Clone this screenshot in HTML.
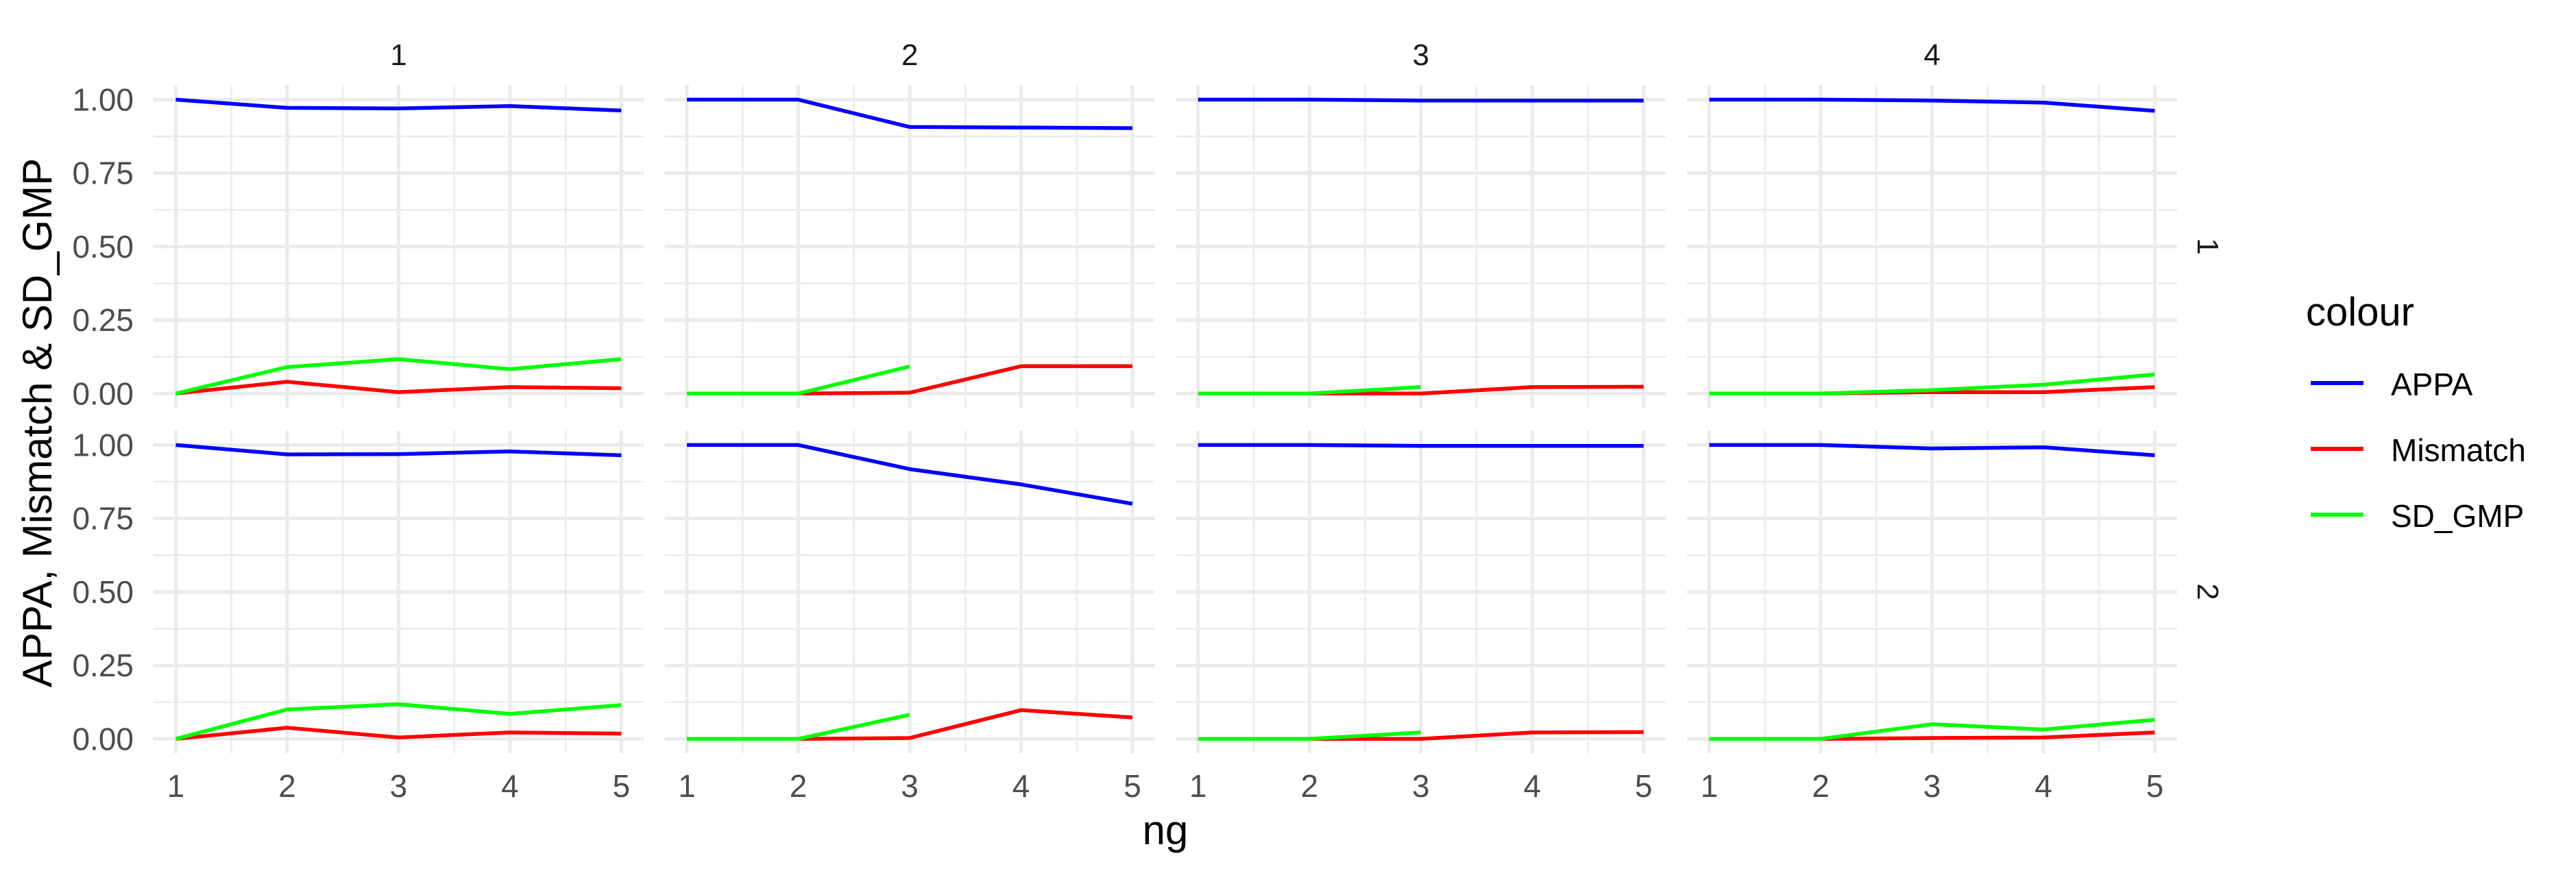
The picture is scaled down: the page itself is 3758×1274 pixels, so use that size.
<!DOCTYPE html>
<html><head><meta charset="utf-8"><style>
html,body{margin:0;padding:0;background:#fff;}
svg{display:block;font-family:"Liberation Sans",Arial,sans-serif;}
</style></head><body>
<svg id="chart" width="3758" height="1274" viewBox="0 0 3758 1274" xmlns="http://www.w3.org/2000/svg">
<text x="0" y="0" transform="translate(75,617) rotate(-90)" text-anchor="middle" font-size="60" fill="#000">APPA, Mismatch &amp; SD_GMP</text>
<text x="1700" y="1232" text-anchor="middle" font-size="60" fill="#000">ng</text>
<g>
<text x="3364" y="475" font-size="58" fill="#000">colour</text>
<line x1="3371" x2="3448" y1="559" y2="559" stroke="#0000ff" stroke-width="6"/>
<text x="3488" y="577" font-size="46" fill="#000">APPA</text>
<line x1="3371" x2="3448" y1="655" y2="655" stroke="#ff0000" stroke-width="6"/>
<text x="3488" y="673" font-size="46" fill="#000">Mismatch</text>
<line x1="3371" x2="3448" y1="751" y2="751" stroke="#00ff00" stroke-width="6"/>
<text x="3488" y="769" font-size="46" fill="#000">SD_GMP</text>
</g>
</svg>
<script>
const xCategories = [1, 2, 3, 4, 5];
const yTicks = [0, 0.25, 0.5, 0.75, 1];
const yTickLabels = ["0.00", "0.25", "0.50", "0.75", "1.00"];
const colFacets = ["1", "2", "3", "4"];
const rowFacets = ["1", "2"];
// values per [row][col]
const appa = [
  [[1, 0.972, 0.970, 0.978, 0.963], [1, 1, 0.907, 0.905, 0.903], [1, 1, 0.997, 0.997, 0.997], [1, 1, 0.997, 0.990, 0.962]],
  [[1, 0.968, 0.969, 0.978, 0.965], [1, 1, 0.918, 0.866, 0.800], [1, 1, 0.997, 0.997, 0.997], [1, 1, 0.988, 0.992, 0.965]]
];
const mismatch = [
  [[0, 0.040, 0.005, 0.022, 0.018], [0, 0, 0.003, 0.093, 0.093], [0, 0, 0, 0.022, 0.023], [0, 0, 0.005, 0.005, 0.022]],
  [[0, 0.038, 0.005, 0.022, 0.018], [0, 0, 0.003, 0.098, 0.073], [0, 0, 0, 0.022, 0.023], [0, 0, 0.003, 0.005, 0.022]]
];
const sdGmp = [
  [[0, 0.090, 0.117, 0.083, 0.117], [0, 0, 0.092], [0, 0, 0.022], [0, 0, 0.012, 0.030, 0.065]],
  [[0, 0.100, 0.118, 0.085, 0.115], [0, 0, 0.082], [0, 0, 0.022], [0, 0, 0.050, 0.032, 0.065]]
];

const NS = "http://www.w3.org/2000/svg";
const svg = document.getElementById("chart");
const PANEL_W = 715, PANEL_STEP = 745.7, PANEL_X0 = 224;
const ROW_TOP = [124, 628], ROW_H = 471;
function xScale(col, v) { return PANEL_X0 + col * PANEL_STEP + 32.4 + (v - 1) * 162.5; }
function yScale(row, v) { const y0 = ROW_TOP[row] + 450.3, y1 = ROW_TOP[row] + 21.4; return y0 + (y1 - y0) * v; }
function mk(tag, attrs, parent) {
  const e = document.createElementNS(NS, tag);
  for (const k in attrs) e.setAttribute(k, attrs[k]);
  (parent || svg).appendChild(e);
  return e;
}

colFacets.forEach((cf, c) => {
  const t = mk("text", {x: PANEL_X0 + c * PANEL_STEP + PANEL_W / 2, y: 95, "text-anchor": "middle", "font-size": 44, fill: "#1a1a1a"});
  
  
  t.textContent = cf;
  xCategories.forEach(v => {
    const tl = mk("text", {x: xScale(c, v), y: 1163, "text-anchor": "middle", "font-size": 46, fill: "#4d4d4d"});
    
    
    tl.textContent = v;
  });
});

rowFacets.forEach((rf, r) => {
  const cy = ROW_TOP[r] + ROW_H / 2;
  const t = mk("text", {x: 0, y: 0, transform: `translate(3206,${cy}) rotate(90)`, "text-anchor": "middle", "font-size": 44, fill: "#1a1a1a"});
  
  
  t.textContent = rf;
  yTicks.forEach((v, i) => {
    const tl = mk("text", {x: 195, y: yScale(r, v) + 16, "text-anchor": "end", "font-size": 46, fill: "#4d4d4d"});
    
    
    tl.textContent = yTickLabels[i];
  });
  colFacets.forEach((cf, c) => {
    const g = mk("g", {});
    
    
    const left = PANEL_X0 + c * PANEL_STEP, right = left + PANEL_W;
    const top = ROW_TOP[r], bot = top + ROW_H;
    for (let k = 0; k < yTicks.length - 1; k++) {
      const mv = (yTicks[k] + yTicks[k + 1]) / 2;
      const l = mk("line", {x1: left, x2: right, y1: yScale(r, mv), y2: yScale(r, mv), stroke: "#ebebeb", "stroke-width": 2.5}, g);
      
      
    }
    for (let k = 0; k < xCategories.length - 1; k++) {
      const mv = (xCategories[k] + xCategories[k + 1]) / 2;
      const l = mk("line", {x1: xScale(c, mv), x2: xScale(c, mv), y1: top, y2: bot, stroke: "#ebebeb", "stroke-width": 2.5}, g);
      
      
    }
    yTicks.forEach(v => {
      const l = mk("line", {x1: left, x2: right, y1: yScale(r, v), y2: yScale(r, v), stroke: "#ebebeb", "stroke-width": 5}, g);
      
      
    });
    xCategories.forEach(v => {
      const l = mk("line", {x1: xScale(c, v), x2: xScale(c, v), y1: top, y2: bot, stroke: "#ebebeb", "stroke-width": 5}, g);
      
      
    });
    const series = [[appa, "#0000ff", "appa-line"], [mismatch, "#ff0000", "mismatch-line"], [sdGmp, "#00ff00", "sd-gmp-line"]];
    series.forEach(([arr, col, name]) => {
      const vals = arr[r][c];
      const pts = vals.map((v, i) => xScale(c, xCategories[i]).toFixed(1) + "," + yScale(r, v).toFixed(1)).join(" ");
      const pl = mk("polyline", {points: pts, fill: "none", stroke: col, "stroke-width": 5.5, "stroke-linejoin": "round"}, g);
      
      
    });
  });
});
</script>
</body></html>
